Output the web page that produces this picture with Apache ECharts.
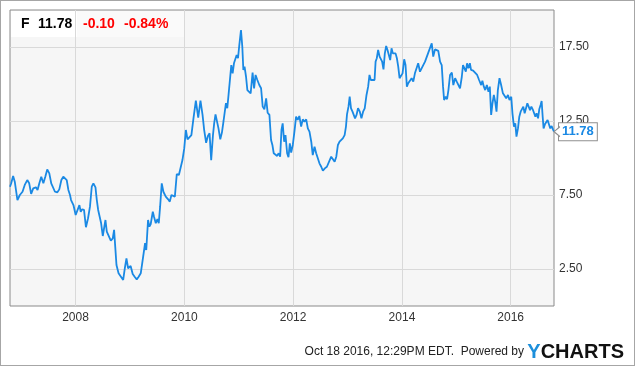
<!DOCTYPE html>
<html>
<head>
<meta charset="utf-8">
<script src="https://cdn.jsdelivr.net/npm/echarts@6/dist/echarts.min.js"></script>
<style>
  html, body { margin: 0; padding: 0; background: #fff; }
  #chart { width: 635px; height: 366px; position: relative; }
  #frame { position: absolute; left: 0; top: 0; width: 635px; height: 366px; box-sizing: border-box; border: 1px solid #a6a6a6; pointer-events: none; }
</style>
</head>
<body>
<div id="chart"></div>
<div id="frame"></div>
<script>
// header quote
var ticker = 'F'
var lastPrice = '11.78'
var change = '-0.10'
var changePct = '-0.84%'
var stamp = 'Oct 18 2016, 12:29PM EDT.'

// axis ticks
var yTicks = [2.5, 7.5, 12.5, 17.5]
var xTickYears = [2008, 2010, 2012, 2014, 2016]

// price history
var dates = [
  '2006-10-18', '2006-10-26', '2006-11-08', '2006-11-19', '2006-12-07', '2006-12-23',
  '2007-01-10', '2007-01-25', '2007-02-11', '2007-02-24', '2007-03-09', '2007-03-23', '2007-04-10', '2007-04-21',
  '2007-05-03', '2007-05-16', '2007-05-30', '2007-06-12', '2007-06-25', '2007-07-09', '2007-07-22', '2007-07-31',
  '2007-08-16', '2007-09-01', '2007-09-14', '2007-09-28', '2007-10-11', '2007-10-22', '2007-11-03', '2007-11-14',
  '2007-11-25', '2007-12-02', '2007-12-18',
  '2008-01-02', '2008-01-14', '2008-01-27', '2008-02-05', '2008-02-13', '2008-02-27', '2008-03-11', '2008-03-25',
  '2008-04-07', '2008-04-19', '2008-04-30', '2008-05-14', '2008-05-23', '2008-06-01', '2008-06-10', '2008-06-21',
  '2008-07-02', '2008-07-11', '2008-07-20', '2008-07-29', '2008-08-11', '2008-08-25', '2008-09-07', '2008-09-16',
  '2008-09-25', '2008-10-02', '2008-10-16', '2008-10-29', '2008-11-16', '2008-11-27', '2008-12-08', '2008-12-19',
  '2009-01-05', '2009-01-19', '2009-02-01', '2009-02-15', '2009-02-28', '2009-03-14', '2009-03-22', '2009-03-31',
  '2009-04-12', '2009-04-20', '2009-05-02', '2009-05-11', '2009-05-20', '2009-06-03', '2009-06-11', '2009-06-23',
  '2009-07-04', '2009-07-13', '2009-07-22', '2009-08-02', '2009-08-13', '2009-08-29', '2009-09-14', '2009-09-25',
  '2009-10-06', '2009-10-17', '2009-10-29', '2009-11-11', '2009-11-25', '2009-12-08', '2009-12-19', '2009-12-31',
  '2010-01-11', '2010-01-22', '2010-02-04', '2010-02-17', '2010-03-03', '2010-03-19', '2010-04-04', '2010-04-19',
  '2010-05-03', '2010-05-14', '2010-05-27', '2010-06-08', '2010-06-19', '2010-06-30', '2010-07-12', '2010-07-20',
  '2010-07-29', '2010-08-08', '2010-08-18', '2010-08-30', '2010-09-10', '2010-09-21', '2010-10-07', '2010-10-16',
  '2010-10-25', '2010-11-03', '2010-11-12', '2010-11-21', '2010-11-30', '2010-12-09', '2010-12-18', '2010-12-27',
  '2011-01-05', '2011-01-16', '2011-01-25', '2011-02-01', '2011-02-09', '2011-02-19', '2011-02-28', '2011-03-11',
  '2011-03-22', '2011-04-04', '2011-04-14', '2011-04-24', '2011-05-06', '2011-05-19', '2011-05-31', '2011-06-11',
  '2011-06-22', '2011-07-04', '2011-07-14', '2011-07-26', '2011-08-06', '2011-08-15', '2011-08-24', '2011-09-04',
  '2011-09-16', '2011-09-26', '2011-10-06', '2011-10-15', '2011-10-23', '2011-11-02', '2011-11-11', '2011-11-22',
  '2011-12-01', '2011-12-10', '2011-12-19', '2011-12-30',
  '2012-01-10', '2012-01-21', '2012-02-01', '2012-02-12', '2012-02-24', '2012-03-06', '2012-03-17', '2012-03-29',
  '2012-04-09', '2012-04-20', '2012-05-02', '2012-05-12', '2012-05-24', '2012-06-04', '2012-06-15', '2012-06-26',
  '2012-07-08', '2012-07-19', '2012-08-01', '2012-08-15', '2012-08-28', '2012-09-13', '2012-09-24', '2012-10-06',
  '2012-10-17', '2012-10-28', '2012-11-08', '2012-11-19', '2012-11-30', '2012-12-12', '2012-12-21', '2012-12-28',
  '2013-01-07', '2013-01-15', '2013-01-24', '2013-02-03', '2013-02-11', '2013-02-20', '2013-03-02', '2013-03-12',
  '2013-03-24', '2013-04-04', '2013-04-15', '2013-04-26', '2013-05-08', '2013-05-19', '2013-05-28', '2013-06-06',
  '2013-06-19', '2013-07-01', '2013-07-08', '2013-07-16', '2013-07-25', '2013-08-04', '2013-08-12', '2013-08-21',
  '2013-08-30', '2013-09-08', '2013-09-17', '2013-09-26', '2013-10-05', '2013-10-14', '2013-10-23', '2013-11-01',
  '2013-11-10', '2013-11-19', '2013-11-28', '2013-12-07', '2013-12-16', '2013-12-25',
  '2014-01-05', '2014-01-16', '2014-01-25', '2014-02-03', '2014-02-12', '2014-02-23', '2014-03-07', '2014-03-18',
  '2014-03-29', '2014-04-10', '2014-04-20', '2014-05-02', '2014-05-13', '2014-05-24', '2014-06-05', '2014-06-16',
  '2014-06-27', '2014-07-08', '2014-07-20', '2014-07-30', '2014-08-11', '2014-08-22', '2014-09-02', '2014-09-14',
  '2014-09-25', '2014-10-04', '2014-10-11', '2014-10-22', '2014-10-31', '2014-11-09', '2014-11-20', '2014-12-02',
  '2014-12-12', '2014-12-24',
  '2015-01-04', '2015-01-15', '2015-01-26', '2015-02-07', '2015-02-15', '2015-02-24', '2015-03-06', '2015-03-14',
  '2015-03-23', '2015-04-02', '2015-04-10', '2015-04-24', '2015-05-07', '2015-05-21', '2015-06-03', '2015-06-17',
  '2015-06-25', '2015-07-05', '2015-07-14', '2015-07-25', '2015-08-05', '2015-08-14', '2015-08-23', '2015-09-01',
  '2015-09-10', '2015-09-19', '2015-09-28', '2015-10-07', '2015-10-18', '2015-10-29', '2015-11-10', '2015-11-21',
  '2015-12-02', '2015-12-14', '2015-12-24',
  '2016-01-05', '2016-01-13', '2016-01-23', '2016-02-01', '2016-02-09', '2016-02-19', '2016-02-28', '2016-03-08',
  '2016-03-17', '2016-03-26', '2016-04-04', '2016-04-13', '2016-04-22', '2016-05-01', '2016-05-10', '2016-05-19',
  '2016-05-28', '2016-06-06', '2016-06-15', '2016-06-23', '2016-07-03', '2016-07-11', '2016-07-20', '2016-07-27',
  '2016-08-03', '2016-08-09', '2016-08-19', '2016-08-28', '2016-09-05', '2016-09-15', '2016-09-23', '2016-10-02',
  '2016-10-11', '2016-10-18'
]
var prices = [
  8.06, 8.29, 8.78, 8.40, 7.16, 7.50,
  7.72, 8.18, 8.51, 8.29, 7.57, 7.95, 8.02, 7.84,
  8.29, 8.74, 8.29, 8.74, 9.23, 8.96, 8.29, 8.40,
  7.72, 7.68, 7.88, 8.51, 8.74, 8.63, 8.51, 7.84,
  7.50, 7.16, 6.82,
  6.15, 6.03, 6.82, 6.37, 6.53, 6.49, 5.32, 5.93,
  6.71, 8.06, 8.29, 8.02, 7.16, 6.49, 6.53, 5.59,
  4.73, 4.80, 5.81, 5.02, 5.14, 4.41, 4.57, 5.14,
  5.10, 2.77, 2.21, 2.09, 1.76, 2.55, 3.22, 2.55,
  2.70, 2.16, 1.98, 1.80, 1.98, 2.21, 2.77, 2.66,
  4.24, 3.78, 5.81, 5.36, 5.54, 6.37, 6.03, 5.59,
  5.88, 5.59, 6.71, 8.29, 7.72, 7.39, 7.21, 7.05,
  7.50, 7.61, 7.39, 8.92, 8.85, 8.85, 9.86, 10.65,
  11.89, 11.26, 11.15, 11.55, 12.68, 13.87, 12.72, 13.87,
  12.91, 11.89, 11.03, 11.49, 11.67, 9.86, 11.55, 12.34,
  12.95, 12.91, 12.00, 11.26, 11.72, 12.50, 13.70, 13.36,
  14.32, 14.37, 16.28, 15.72, 16.40, 16.51, 16.96, 16.74,
  17.64, 18.65, 17.52, 15.95, 16.17, 15.49, 14.59, 14.48,
  14.37, 15.77, 14.71, 15.61, 15.27, 14.93, 14.71, 13.47,
  13.29, 14.03, 13.06, 12.91, 11.22, 10.88, 10.32, 10.43,
  10.14, 10.32, 10.09, 11.89, 12.34, 11.10, 11.55, 10.32,
  10.05, 10.99, 10.36, 10.88,
  11.78, 12.79, 12.57, 12.84, 12.12, 12.61, 12.45, 12.61,
  12.00, 11.78, 11.10, 10.20, 10.76, 10.32, 10.43, 9.64,
  9.41, 9.14, 9.30, 9.41, 9.46, 10.09, 10.20, 9.75,
  10.09, 10.88, 11.10, 11.03, 11.33, 11.55, 12.12, 12.95,
  13.47, 14.14, 13.36, 13.13, 13.24, 12.68, 12.91, 13.36,
  13.13, 12.68, 13.13, 13.36, 14.26, 14.82, 15.61, 15.27,
  15.27, 15.27, 16.51, 16.74, 17.30, 16.85, 16.80, 16.51,
  15.99, 17.07, 17.57, 17.30, 17.18, 16.62, 17.41, 17.07,
  16.96, 17.07, 16.74, 16.17, 15.39, 15.27,
  15.72, 16.67, 16.28, 14.82, 15.05, 15.16, 15.39, 15.16,
  15.72, 15.61, 16.40, 15.83, 15.72, 16.28, 16.51, 16.62,
  17.12, 17.25, 17.75, 16.85, 17.34, 17.30, 17.24, 16.51,
  16.28, 14.82, 13.92, 14.14, 13.97, 14.59, 15.61, 15.77,
  14.93, 15.39,
  15.16, 15.09, 14.71, 15.49, 16.28, 16.17, 15.83, 16.40,
  16.06, 16.40, 15.95, 15.90, 15.83, 15.61, 15.27, 14.93,
  15.22, 14.82, 14.59, 14.93, 14.48, 14.82, 12.91, 13.70,
  14.26, 13.81, 13.13, 14.59, 15.39, 14.93, 14.37, 14.48,
  14.03, 14.26, 13.92,
  14.14, 13.02, 12.12, 12.34, 11.44, 12.00, 12.79, 13.13,
  13.13, 13.47, 13.02, 13.13, 13.70, 13.47, 13.24, 13.47,
  13.29, 13.42, 12.79, 13.02, 12.68, 13.29, 13.58, 13.85,
  12.79, 12.00, 12.30, 12.23, 12.57, 12.61, 12.00, 12.16,
  11.94, 11.78
]

var lineColor = '#1a89e4'
var fontFamily = 'Arial, "Liberation Sans", sans-serif'

function toTime (s) {
  var p = s.split('-')
  return new Date(+p[0], +p[1] - 1, +p[2]).getTime()
}

var seriesData = dates.map(function (d, i) {
  return [toTime(d), prices[i]]
})
var lastPoint = seriesData[seriesData.length - 1]
var xTicks = xTickYears.map(function (y) {
  return new Date(y, 0, 1).getTime()
})

var myChart = echarts.init(document.getElementById('chart'))
myChart.setOption({
  animation: false,
  backgroundColor: '#fff',
  textStyle: { fontFamily: fontFamily },
  grid: {
    left: 10,
    right: 81,
    top: 10,
    bottom: 60,
    show: true,
    backgroundColor: '#f6f6f6',
    borderColor: '#8a8a8a',
    borderWidth: 1
  },
  xAxis: {
    // timestamps on a value axis so the year ticks can be placed exactly
    type: 'value',
    min: seriesData[0][0],
    max: lastPoint[0],
    axisLine: { show: false },
    axisTick: { show: false, customValues: xTicks },
    axisLabel: {
      customValues: xTicks,
      margin: 6,
      color: '#333',
      fontSize: 12,
      fontFamily: fontFamily,
      formatter: function (v) {
        return String(new Date(v).getFullYear())
      }
    },
    splitLine: { show: true, lineStyle: { color: '#d9d9d9', width: 1 } }
  },
  yAxis: {
    type: 'value',
    position: 'right',
    min: 0,
    max: 20,
    axisLine: { show: false },
    axisTick: { show: false, customValues: yTicks },
    axisLabel: {
      customValues: yTicks,
      margin: 5,
      color: '#333',
      fontSize: 12,
      fontFamily: fontFamily,
      formatter: function (v) {
        return v.toFixed(2)
      }
    },
    splitLine: { show: true, lineStyle: { color: '#d9d9d9', width: 1 } }
  },
  series: [
    {
      type: 'line',
      data: seriesData,
      symbol: 'none',
      smooth: false,
      lineStyle: { color: lineColor, width: 1.8 },
      endLabel: {
        show: true,
        formatter: function (p) {
          return p.value[1].toFixed(2)
        },
        distance: 5,
        color: lineColor,
        fontWeight: 'bold',
        fontSize: 13,
        fontFamily: fontFamily,
        backgroundColor: '#fff',
        borderColor: '#8f8f8f',
        borderWidth: 1,
        padding: [2, 3, 2, 3]
      },
      markPoint: {
        symbol: 'path://M6,0 L0,5 L6,10',
        symbolSize: [6, 10],
        symbolOffset: [3, 0],
        silent: true,
        itemStyle: { color: '#fff', borderColor: '#8f8f8f', borderWidth: 1 },
        label: { show: false },
        data: [{ coord: lastPoint }]
      }
    }
  ],
  graphic: [
    { type: 'rect', x: 11, y: 11, shape: { width: 66, height: 26 }, style: { fill: '#fff' } },
    { type: 'rect', x: 77, y: 11, shape: { width: 107, height: 26 }, style: { fill: '#fafafa' } },
    { type: 'text', x: 21, y: 24, style: { text: ticker, font: 'bold 14px ' + fontFamily, fill: '#000', verticalAlign: 'middle' } },
    { type: 'text', x: 38, y: 24, style: { text: lastPrice, font: 'bold 14px ' + fontFamily, fill: '#000', verticalAlign: 'middle' } },
    { type: 'text', x: 83, y: 24, style: { text: change, font: 'bold 14px ' + fontFamily, fill: '#f00', verticalAlign: 'middle' } },
    { type: 'text', x: 124, y: 24, style: { text: changePct, font: 'bold 14px ' + fontFamily, fill: '#f00', verticalAlign: 'middle' } },
    {
      type: 'text',
      x: 624,
      y: 362,
      style: {
        text: '{a|' + stamp + '  Powered by }{y|Y}{c|CHARTS}',
        align: 'right',
        verticalAlign: 'bottom',
        rich: {
          a: { fontSize: 12, fontFamily: fontFamily, fill: '#222', padding: [0, 0, 1, 0] },
          y: { fontSize: 20, fontWeight: 'bold', fontFamily: fontFamily, fill: '#1c8fdb' },
          c: { fontSize: 20, fontWeight: 'bold', fontFamily: fontFamily, fill: '#111' }
        }
      }
    }
  ]
})
</script>
</body>
</html>
